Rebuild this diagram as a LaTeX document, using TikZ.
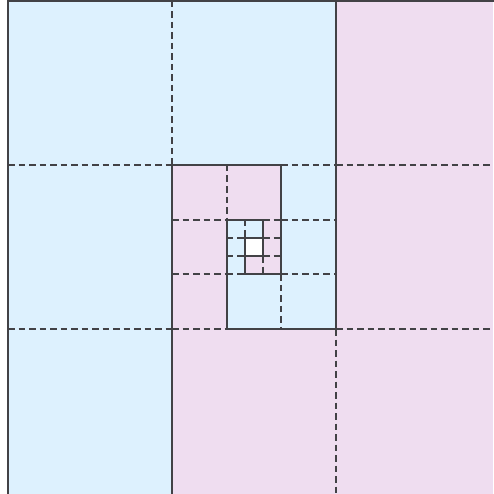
\documentclass[tikz,border=0pt]{standalone}
\definecolor{cblue}{RGB}{221,241,254}
\definecolor{cpink}{RGB}{239,221,240}
\definecolor{cline}{RGB}{66,66,70}
\tikzset{
  dline/.style={draw=cline, line width=2.1pt, dash pattern=on 6.5pt off 4pt},
  sline/.style={draw=cline, line width=2.3pt, line cap=rect},
}
\newcommand{\LvFill}[5]{%
  \fill[#4] (#1,#2) rectangle ({#1+#3},{#2+3*#3});
  \fill[#4] ({#1+#3},#2) rectangle ({#1+2*#3},{#2+#3});
  \fill[#5] ({#1+2*#3},#2) rectangle ({#1+3*#3},{#2+3*#3});
  \fill[#5] ({#1+#3},{#2+2*#3}) rectangle ({#1+2*#3},{#2+3*#3});
}
\newcommand{\LvDash}[3]{%
  \draw[dline] ({#1+#3},#2) -- ({#1+#3},{#2+#3});
  \draw[dline] ({#1+2*#3},{#2+2*#3}) -- ({#1+2*#3},{#2+3*#3});
  \draw[dline] (#1,{#2+#3}) -- ({#1+#3},{#2+#3});
  \draw[dline] ({#1+2*#3},{#2+#3}) -- ({#1+3*#3},{#2+#3});
  \draw[dline] (#1,{#2+2*#3}) -- ({#1+#3},{#2+2*#3});
  \draw[dline] ({#1+2*#3},{#2+2*#3}) -- ({#1+3*#3},{#2+2*#3});
}
\newcommand{\LvBorderDash}[3]{%
  \draw[dline] ({#1+2*#3},#2) -- ({#1+3*#3},#2);
  \draw[dline] (#1,{#2+3*#3}) -- ({#1+#3},{#2+3*#3});
}
\newcommand{\LvSolid}[3]{%
  \draw[sline] (#1,#2) -- (#1,{#2+3*#3});
  \draw[sline] ({#1+3*#3},#2) -- ({#1+3*#3},{#2+3*#3});
  \draw[sline] (#1,#2) -- ({#1+2*#3},#2);
  \draw[sline] ({#1+#3},{#2+3*#3}) -- ({#1+3*#3},{#2+3*#3});
  \draw[sline] ({#1+2*#3},#2) -- ({#1+2*#3},{#2+2*#3});
  \draw[sline] ({#1+#3},{#2+#3}) -- ({#1+#3},{#2+3*#3});
}
\begin{document}
\begin{tikzpicture}[x=1pt,y=-1pt]
\useasboundingbox (0,0) rectangle (493,494);
\fill[white] (0,0) rectangle (493,494);
% level 1 fills
\fill[cblue] (8,1) rectangle (172,494);
\fill[cblue] (172,1) rectangle (336,165);
\fill[cpink] (336,1) rectangle (493,494);
\fill[cpink] (172,329) rectangle (336,494);
% deeper levels
\LvFill{172}{165}{54.6667}{cpink}{cblue}
\LvFill{226.6667}{219.6667}{18.2222}{cblue}{cpink}
\fill[white] (244.8889,237.8889) rectangle (263.1111,256.1111);
% level 1 dashed
\draw[dline] (172,1) -- (172,165);
\draw[dline] (336,329) -- (336,494);
\draw[dline] (8,165) -- (172,165);
\draw[dline] (336,165) -- (493,165);
\draw[dline] (8,329) -- (172,329);
\draw[dline] (336,329) -- (493,329);
% deeper dashed
\LvDash{172}{165}{54.6667}
\LvBorderDash{172}{165}{54.6667}
\LvDash{226.6667}{219.6667}{18.2222}
\LvBorderDash{226.6667}{219.6667}{18.2222}
% level 1 solid
\draw[sline] (8,1) -- (8,494);
\draw[sline] (8,1) -- (493,1);
\draw[sline] (336,1) -- (336,329);
\draw[sline] (172,165) -- (172,494);
% deeper solid
\LvSolid{172}{165}{54.6667}
\LvSolid{226.6667}{219.6667}{18.2222}
\draw[sline] (244.8889,237.8889) rectangle (263.1111,256.1111);
\end{tikzpicture}
\end{document}
